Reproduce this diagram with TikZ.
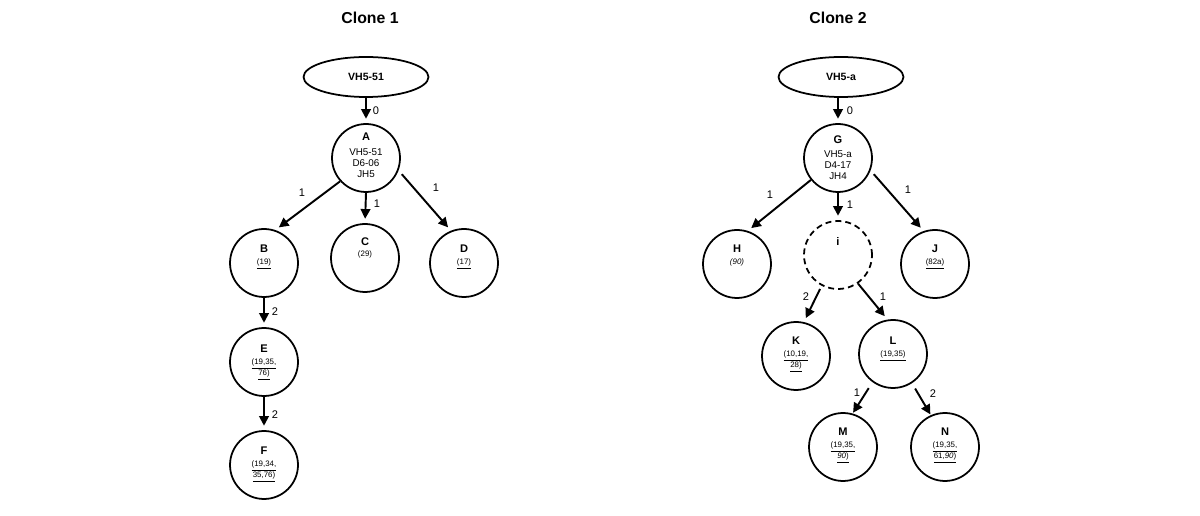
\documentclass[tikz,border=0pt]{standalone}
\usepackage{fontspec}
\setmainfont{Liberation Sans}
\usetikzlibrary{arrows.meta,shapes.geometric}
\tikzset{
  circ/.style={draw, circle, line width=1pt, minimum size=1.36cm, inner sep=0pt},
  dashcirc/.style={circ, dash pattern=on 3.4pt off 2.3pt},
  root/.style={draw, ellipse, line width=1pt, minimum width=2.5cm, minimum height=0.8cm, font=\fontsize{6}{7}\selectfont\bfseries},
  arr/.style={-{Triangle[length=5.5pt,width=5.5pt]}, line width=1.1pt, shorten >=2.5pt},
  inside/.style={anchor=north, inner sep=0pt, align=center, font=\fontsize{5.6}{6.3}\selectfont},
  num/.style={font=\fontsize{6.3}{7}\selectfont, inner sep=0pt},
  title/.style={font=\fontsize{9}{10}\selectfont\bfseries}
}
\newcommand{\nm}[1]{{\fontsize{6.3}{7}\selectfont\bfseries #1}}
\newcommand{\mut}[1]{{\fontsize{4.5}{5.7}\selectfont #1}}

\begin{document}
\begin{tikzpicture}[x=0.02cm, y=-0.02cm]
  \useasboundingbox (0,0) rectangle (1200,516);

  % clone 1
  \node[title] (t1) at (370,18) {Clone 1};
  \node[root] (V1) at (366,77) {VH5-51};
  \node[circ] (A) at (366,158) {};
  \node[circ] (B) at (264,263) {};
  \node[circ] (C) at (365,258) {};
  \node[circ] (D) at (464,263) {};
  \node[circ] (E) at (264,362) {};
  \node[circ] (F) at (264,465) {};

  \node[inside] (At) at (366,133) {\nm{A}\\[2pt]VH5-51\\D6-06\\JH5};
  \node[inside] (Bt) at (264,245) {\nm{B}\\\mut{\underline{(19)}}};
  \node[inside] (Ct) at (365,237) {\nm{C}\\\mut{(29)}};
  \node[inside] (Dt) at (464,245) {\nm{D}\\\mut{\underline{(17)}}};
  \node[inside] (Et) at (264,345) {\nm{E}\\\mut{\underline{(19,35,}}\\\mut{\underline{76)}}};
  \node[inside] (Ft) at (264,447) {\nm{F}\\\mut{\underline{(19,34,}}\\\mut{\underline{35,76)}}};

  \draw[arr] (V1) -- (A);
  \draw[arr] (A.222) -- (B.71);
  \draw[arr] (A.south) -- (C.north);
  \draw[arr, shorten <=2.8pt] (A.-21) -- (D.112);
  \draw[arr] (B) -- (E);
  \draw[arr] (E) -- (F);

  \node[num] (l0a) at (376,111) {0};
  \node[num] (l1a) at (302,193) {1};
  \node[num] (l1b) at (377,204) {1};
  \node[num] (l1c) at (436,188) {1};
  \node[num] (l2a) at (275,312) {2};
  \node[num] (l2b) at (275,415) {2};

  % clone 2
  \node[title] (t2) at (838,18) {Clone 2};
  \node[root] (V2) at (841,77) {VH5-a};
  \node[circ] (G) at (838,158) {};
  \node[circ] (H) at (737,264) {};
  \node[dashcirc] (i) at (838,255) {};
  \node[circ] (J) at (935,264) {};
  \node[circ] (K) at (796,356) {};
  \node[circ] (L) at (893,354) {};
  \node[circ] (M) at (843,447) {};
  \node[circ] (N) at (945,447) {};

  \node[inside] (Gt) at (838,135) {\nm{G}\\[2pt]VH5-a\\D4-17\\JH4};
  \node[inside] (Ht) at (737,245) {\nm{H}\\\mut{\textit{(90)}}};
  \node[inside] (it) at (838,237) {\nm{i}};
  \node[inside] (Jt) at (935,245) {\nm{J}\\\mut{\underline{(82a)}}};
  \node[inside] (Kt) at (796,337) {\nm{K}\\\mut{\underline{(10,19,}}\\\mut{\underline{28)}}};
  \node[inside] (Lt) at (893,337) {\nm{L}\\\mut{\underline{(19,35)}}};
  \node[inside] (Mt) at (843,428) {\nm{M}\\\mut{\underline{(19,35,}}\\\mut{\underline{\textit{90})}}};
  \node[inside] (Nt) at (945,428) {\nm{N}\\\mut{\underline{(19,35,}}\\\mut{\underline{61,\textit{90})}}};

  \draw[arr] (V2.south -| G.north) -- (G.north);
  \draw[arr] (G.219) -- (H.72);
  \draw[arr] (G.south) -- (i.north);
  \draw[arr, shorten <=2.8pt] (G.-21) -- (J.109);
  \draw[arr, shorten <=2pt] (i.242) -- (K.77);
  \draw[arr] (i.-55) -- (L.99);
  \draw[arr, shorten <=4pt, shorten >=0.5pt] (L.234) -- (M.74);
  \draw[arr, shorten <=3.5pt, shorten >=0.5pt] (L.-57) -- (N.114);

  \node[num] (l0b) at (850,111) {0};
  \node[num] (l1d) at (770,195) {1};
  \node[num] (l1e) at (850,205) {1};
  \node[num] (l1f) at (908,190) {1};
  \node[num] (l2c) at (806,297) {2};
  \node[num] (l1g) at (883,297) {1};
  \node[num] (l1h) at (857,393) {1};
  \node[num] (l2d) at (933,394) {2};
\end{tikzpicture}
\end{document}
